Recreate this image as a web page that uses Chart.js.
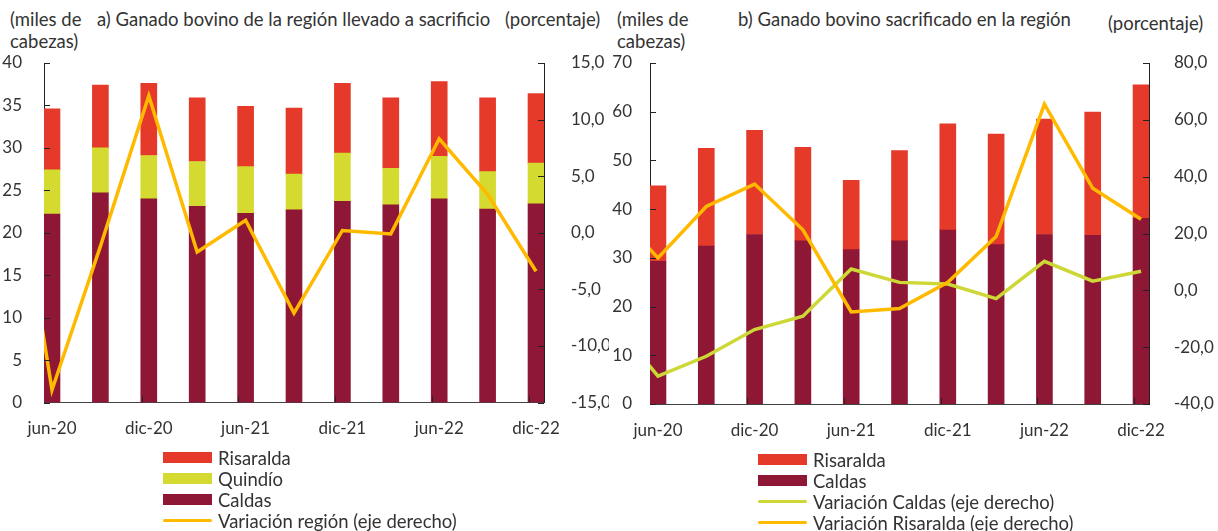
<!DOCTYPE html>
<html>
<head>
<meta charset="utf-8">
<script src="https://cdn.jsdelivr.net/npm/chart.js@4.4.1/dist/chart.umd.min.js"></script>
<style>
    body { margin: 0; background: #fff; width: 1218px; height: 531px; position: relative; overflow: hidden;
           font-family: Lato, 'Noto Sans', sans-serif; color: #333; }
    .t { position: absolute; font-size: 18.5px; line-height: 20px; white-space: nowrap; }
    .panel { position: absolute; top: 0; }
    .leg { position: absolute; font-size: 18.5px; }
    .leg .row { height: 21px; display: flex; align-items: center; white-space: nowrap; }
    .leg .sw { display: inline-block; width: 49px; margin-right: 6px; }
</style>
</head>
<body>
<div class="t" style="left:10px;top:9px">(miles de</div>
<div class="t" style="left:10px;top:31px">cabezas)</div>
<div class="t" style="left:97px;top:9px">a) Ganado bovino de la región llevado a sacrificio</div>
<div class="t" style="left:505px;top:9px">(porcentaje)</div>

<div class="t" style="left:617px;top:9px">(miles de</div>
<div class="t" style="left:617px;top:31px">cabezas)</div>
<div class="t" style="left:738px;top:9px">b) Ganado bovino sacrificado en la región</div>
<div class="t" style="left:1108px;top:13px">(porcentaje)</div>

<canvas id="chart-a" class="panel" style="left:0" width="609" height="448"></canvas>
<canvas id="chart-b" class="panel" style="left:609px" width="609" height="450"></canvas>

<div id="legend-a" class="leg" style="left:163px;top:447px"></div>
<div id="legend-b" class="leg" style="left:758px;top:449px"></div>

<script>
// quarters shown on both panels
const categories = ['jun-20', 'sep-20', 'dic-20', 'mar-21', 'jun-21', 'sep-21', 'dic-21', 'mar-22', 'jun-22', 'sep-22', 'dic-22'];
const xTickIdx = [0, 2, 4, 6, 8, 10];
// the line series start one quarter earlier (mar-20), cut at the left axis
const lineCategories = ['mar-20'].concat(categories);

// a) miles de cabezas, stacked
const caldasA = [22.2, 24.7, 24.0, 23.1, 22.3, 22.7, 23.7, 23.3, 24.0, 22.8, 23.4];
const quindioA = [5.2, 5.3, 5.1, 5.3, 5.5, 4.2, 5.7, 4.3, 5.0, 4.4, 4.8];
const risaraldaA = [7.2, 7.4, 8.5, 7.5, 7.1, 7.8, 8.2, 8.3, 8.8, 8.7, 8.2];
// a) variación región, porcentaje (mar-20 first)
const variacionRegion = [13.1, -13.9, -1.2, 12.1, -1.7, 1.1, -7.1, 0.2, -0.1, 8.3, 3.4, -3.4];

// b) miles de cabezas, stacked
const caldasB = [29.3, 32.4, 34.8, 33.5, 31.7, 33.5, 35.7, 32.7, 34.8, 34.6, 38.1];
const risaraldaB = [15.5, 20.1, 21.4, 19.2, 14.2, 18.5, 21.8, 22.7, 23.7, 25.3, 27.4];
// b) variaciones, porcentaje (mar-20 first)
const variacionCaldas = [-9.8, -30.2, -23.2, -13.8, -9.1, 7.5, 2.8, 2.2, -2.9, 10.2, 3.2, 6.7];
const variacionRisaralda = [29.8, 11.4, 29.5, 37.4, 21.3, -7.6, -6.4, 2.8, 18.9, 65.5, 35.9, 25.0];

const leftTicksA = [0, 40, 5];
const rightTicksA = [-15, 15, 5];
const leftTicksB = [0, 70, 10];
const rightTicksB = [-40, 80, 20];

const RED = '#e5392a';
const LIME = '#d5da30';
const WINE = '#8e1735';
const GOLD = '#ffba00';
const GREEN = '#cdd735';
const INK = '#333';
const FONT = "Lato, 'Noto Sans', sans-serif";

function pts(values, shift) {
    return values.map((v, i) => ({ x: i - shift, y: v }));
}

function pct(v) {
    return v.toFixed(1).replace('.', ',');
}

// small tick marks pointing into the plot, like the original
const inwardTicks = {
    id: 'inwardTicks',
    afterDraw(chart) {
        const ctx = chart.ctx;
        const a = chart.chartArea;
        ctx.save();
        ctx.strokeStyle = '#222';
        ctx.lineWidth = 1;
        ['y', 'y2'].forEach((id) => {
            const s = chart.scales[id];
            s.ticks.forEach((t) => {
                const py = Math.round(s.getPixelForValue(t.value)) + 0.5;
                const x0 = id === 'y' ? a.left : a.right;
                ctx.beginPath();
                ctx.moveTo(x0, py);
                ctx.lineTo(x0 + (id === 'y' ? 6 : -6), py);
                ctx.stroke();
            });
        });
        const sx = chart.scales.x;
        [2, 4, 6, 8, 10].forEach((i) => {
            const px = Math.round(sx.getPixelForValue(i - 0.15)) + 0.5;
            ctx.beginPath();
            ctx.moveTo(px, a.bottom);
            ctx.lineTo(px, a.bottom - 6);
            ctx.stroke();
        });
        ctx.restore();
    },
};

function buildChart(id, opt) {
    const ctx = document.getElementById(id).getContext('2d');
    const tickFont = { size: 17, family: FONT };
    return new Chart(ctx, {
        data: { datasets: opt.datasets },
        plugins: [inwardTicks],
        options: {
            responsive: false,
            animation: false,
            layout: { padding: { top: 63, left: 0, right: 0, bottom: 0 } },
            plugins: { legend: { display: false }, tooltip: { enabled: false } },
            elements: { point: { radius: 0 } },
            scales: {
                x: {
                    type: 'linear',
                    offset: false,
                    bounds: 'data',
                    stacked: true,
                    min: -0.165,
                    max: 10.165,
                    grid: { display: false, offset: false },
                    border: { display: true, color: '#444', width: 1 },
                    afterDataLimits: (s) => { s.min = -0.165; s.max = 10.165; },
                    afterBuildTicks: (s) => { s.ticks = xTickIdx.map((v) => ({ value: v })); },
                    afterFit: (s) => { s.height = opt.xHeight; },
                    ticks: {
                        color: INK,
                        font: tickFont,
                        padding: 8,
                        maxRotation: 0,
                        autoSkip: false,
                        callback: (v) => categories[v] || '',
                    },
                },
                y: {
                    position: 'left',
                    stacked: true,
                    min: opt.left[0],
                    max: opt.left[1],
                    grid: { display: false },
                    border: { display: true, color: '#222', width: 1 },
                    afterFit: (s) => { s.width = opt.leftWidth; },
                    ticks: { stepSize: opt.left[2], color: INK, font: tickFont, padding: opt.leftPad },
                },
                y2: {
                    position: 'right',
                    min: opt.right[0],
                    max: opt.right[1],
                    grid: { display: false },
                    border: { display: true, color: '#222', width: 1 },
                    afterFit: (s) => { s.width = opt.rightWidth; },
                    ticks: {
                        stepSize: opt.right[2],
                        color: INK,
                        font: tickFont,
                        padding: opt.rightPad,
                        callback: (v) => pct(v),
                    },
                },
            },
        },
    });
}

function bar(label, values, color) {
    return { type: 'bar', label, data: pts(values, 0), backgroundColor: color, yAxisID: 'y',
             barThickness: 16, order: 2, borderWidth: 0 };
}

function line(label, values, color, order) {
    return { type: 'line', label, data: pts(values, 1), borderColor: color, backgroundColor: color,
             yAxisID: 'y2', borderWidth: 3.5, tension: 0, fill: false, order };
}

buildChart('chart-a', {
    datasets: [
        bar('Caldas', caldasA, WINE),
        bar('Quindío', quindioA, LIME),
        bar('Risaralda', risaraldaA, RED),
        line('Variación región (eje derecho)', variacionRegion, GOLD, 0),
    ],
    left: leftTicksA, right: rightTicksA,
    leftWidth: 44, rightWidth: 65, xHeight: 45.5, leftPad: 14, rightPad: 19,
});

buildChart('chart-b', {
    datasets: [
        bar('Caldas', caldasB, WINE),
        bar('Risaralda', risaraldaB, RED),
        line('Variación Caldas (eje derecho)', variacionCaldas, GREEN, 1),
        line('Variación Risaralda (eje derecho)', variacionRisaralda, GOLD, 0),
    ],
    left: leftTicksB, right: rightTicksB,
    leftWidth: 41, rightWidth: 69, xHeight: 46, leftPad: 10, rightPad: 17,
});

function legend(id, items) {
    const el = document.getElementById(id);
    items.forEach(([label, color, kind]) => {
        const row = document.createElement('div');
        row.className = 'row';
        const sw = document.createElement('span');
        sw.className = 'sw';
        sw.style.height = kind === 'box' ? '11px' : '3px';
        sw.style.background = color;
        if (kind !== 'box') sw.style.borderRadius = '2px';
        row.appendChild(sw);
        row.appendChild(document.createTextNode(label));
        el.appendChild(row);
    });
}

legend('legend-a', [
    ['Risaralda', RED, 'box'],
    ['Quindío', LIME, 'box'],
    ['Caldas', WINE, 'box'],
    ['Variación región (eje derecho)', GOLD, 'line'],
]);
legend('legend-b', [
    ['Risaralda', RED, 'box'],
    ['Caldas', WINE, 'box'],
    ['Variación Caldas (eje derecho)', GREEN, 'line'],
    ['Variación Risaralda (eje derecho)', GOLD, 'line'],
]);
</script>
</body>
</html>
